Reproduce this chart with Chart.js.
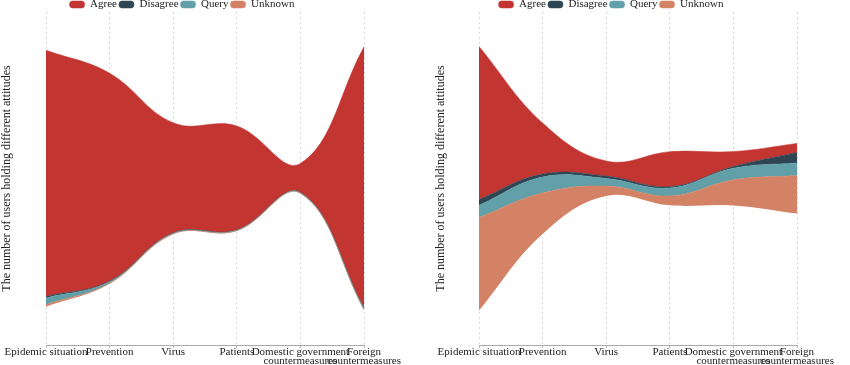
<!DOCTYPE html>
<html>
<head>
<meta charset="utf-8">
<script src="https://cdn.jsdelivr.net/npm/chart.js@4/dist/chart.umd.min.js"></script>
<style>
  body { margin: 0; background: #fff; }
  .wrap { display: flex; width: 850px; height: 365px; }
  canvas { display: block; }
</style>
</head>
<body>
<div class="wrap">
  <canvas id="left" width="425" height="365"></canvas>
  <canvas id="right" width="425" height="365"></canvas>
</div>
<script>
// categories (tick labels, split into lines)
const categories = [
  "Epidemic situation",
  "Prevention",
  "Virus",
  "Patients",
  ["Domestic government", "countermeasures"],
  ["Foreign", "countermeasures"]
];
const yTitle = "The number of users holding different attitudes";

// left stream
const agreeLeft    = [246, 208, 110, 104, 29, 261];
const disagreeLeft = [1.6, 0.7, 0.4, 0.3, 0.3, 0.4];
const queryLeft    = [6.7, 1.5, 0.6, 0.5, 0.5, 1.5];
const unknownLeft  = [2, 0.5, 0.3, 0.3, 0.3, 0.5];

// right stream
const agreeRight    = [153, 51, 15, 35, 15, 9];
const disagreeRight = [6, 3, 2.5, 1.3, 1.7, 10.5];
const queryRight    = [12, 16, 7.5, 8, 11.7, 12.7];
const unknownRight  = [93, 41, 10, 9.3, 25.6, 38];

const colors = { Agree: "#c23531", Disagree: "#2f4554", Query: "#61a0a8", Unknown: "#d48265" };

Chart.defaults.font.family = "'Liberation Serif', 'Times New Roman', serif";
Chart.defaults.color = "#222";

// legend is drawn tight to the top, like the original
const legendFit = {
  id: "legendFit",
  afterInit(chart) {
    const fit = chart.legend.fit;
    chart.legend.fit = function () {
      fit.call(this);
      this.height = 15;
    };
  }
};

// stack the layers around a centred baseline (silhouette offset)
function streamDatasets(agree, disagree, query, unknown) {
  const layers = [
    { label: "Unknown", data: unknown },
    { label: "Query", data: query },
    { label: "Disagree", data: disagree },
    { label: "Agree", data: agree }
  ];
  const totals = categories.map((_, i) => layers.reduce((s, l) => s + l.data[i], 0));
  let running = totals.map(t => -t / 2);
  const sets = [{
    label: "",
    data: running.slice(),
    borderColor: "transparent",
    backgroundColor: "transparent",
    fill: false
  }];
  layers.forEach(l => {
    running = running.map((v, i) => v + l.data[i]);
    sets.push({
      label: l.label,
      data: running.slice(),
      backgroundColor: colors[l.label],
      borderColor: colors[l.label],
      borderWidth: 0.5,
      fill: "-1"
    });
  });
  return sets;
}

function drawStream(id, datasets, padRight, yWidth, titlePad) {
  return new Chart(document.getElementById(id), {
    type: "line",
    data: { labels: categories, datasets },
    options: {
      responsive: false,
      animation: false,
      layout: { padding: { top: -3, right: padRight, left: 0, bottom: 0 } },
      elements: {
        point: { radius: 0, hitRadius: 0 },
        line: { tension: 0.4 }
      },
      plugins: {
        tooltip: { enabled: false },
        legend: {
          reverse: true,
          labels: {
            filter: item => item.text !== "",
            boxWidth: 15,
            boxHeight: 7,
            useBorderRadius: true,
            borderRadius: 3,
            padding: 2,
            font: { size: 11 }
          }
        }
      },
      scales: {
        x: {
          offset: false,
          grid: { color: "#d8d8d8", tickLength: 3, tickColor: "#bbb" },
          border: { color: "#aaa", dash: [2, 3] },
          ticks: {
            autoSkip: false,
            maxRotation: 0,
            padding: 0,
            font: { size: 11, lineHeight: 0.82 }
          },
          afterFit: s => { s.height = 20; }
        },
        y: {
          min: -166.5,
          max: 166.5,
          grid: { display: false },
          border: { display: false },
          ticks: { display: false },
          title: {
            display: true,
            text: yTitle,
            font: { size: 12 },
            padding: { top: titlePad, bottom: 0 }
          },
          afterFit: s => { s.width = yWidth; }
        }
      }
    },
    plugins: [legendFit]
  });
}

drawStream("left", streamDatasets(agreeLeft, disagreeLeft, queryLeft, unknownLeft), 61, 46, 0);
drawStream("right", streamDatasets(agreeRight, disagreeRight, queryRight, unknownRight), 53, 54, 9);
</script>
</body>
</html>
